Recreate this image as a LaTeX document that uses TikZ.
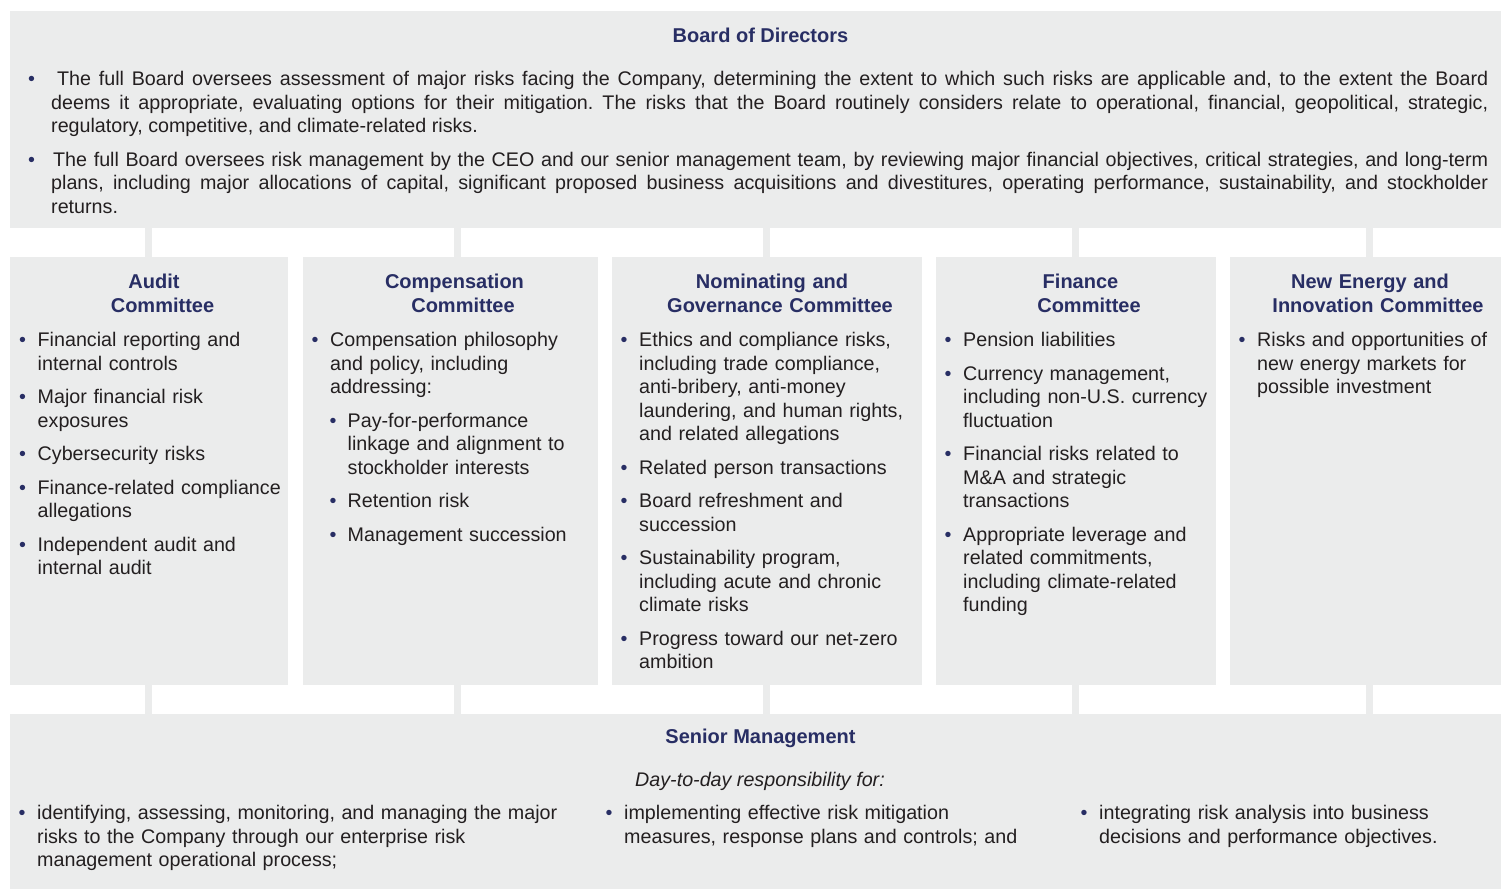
\documentclass[tikz,border=0pt]{standalone}
\usepackage{fontspec}
\setmainfont{Liberation Sans}
\frenchspacing
\definecolor{boxbg}{RGB}{235,236,236}
\definecolor{navy}{RGB}{40,46,100}
\definecolor{ink}{RGB}{35,31,32}
\newlength{\hw}
\newlength{\isep}
\setlength{\isep}{10pt}
\newcommand{\bodyfont}{\fontsize{19.7pt}{23.5pt}\selectfont}
\newcommand{\headfont}{\fontsize{20pt}{23.5pt}\selectfont}
\newcommand{\bulc}{{\color{navy}\textbullet}}
\newcommand{\firstitem}[2][18.5pt]{\setlength{\hw}{#1}\par\hangindent=\hw\hangafter=1\noindent\rule{0pt}{16pt}\makebox[\hw][l]{\bulc}#2\par}
\newcommand{\nextitem}[2][18.5pt]{\setlength{\hw}{#1}\par\vskip\isep\hangindent=\hw\hangafter=1\noindent\makebox[\hw][l]{\bulc}#2\par}
\newcommand{\subitm}[1]{\par\vskip\isep\hangindent=36pt\hangafter=1\noindent\hspace*{18pt}\makebox[18pt][l]{\bulc}#1\par}
\begin{document}
\begin{tikzpicture}[x=1pt,y=-1pt,
  box/.style={anchor=north west, fill=boxbg, draw=none, inner sep=0pt},
  bar/.style={draw=boxbg, line width=7pt, line cap=butt},
  title/.style={inner sep=0pt, font=\headfont\bfseries, text=navy},
  ctitle/.style={anchor=north, inner sep=0pt, text width=300pt, align=center, font=\headfont\bfseries, text=navy},
  body/.style={anchor=north west, inner sep=0pt, text width=#1, align=left, font=\bodyfont, text=ink}]
\useasboundingbox (0,0) rectangle (1501,889);
\fill[white] (0,0) rectangle (1501,889);

% boxes
\node[box, minimum width=1491pt, minimum height=217pt] (board) at (10,11) {};
\node[box, minimum width=278pt, minimum height=428pt] (audit) at (10,257) {};
\node[box, minimum width=295pt, minimum height=428pt] (comp) at (303,257) {};
\node[box, minimum width=310pt, minimum height=428pt] (nom) at (612,257) {};
\node[box, minimum width=280pt, minimum height=428pt] (fin) at (936,257) {};
\node[box, minimum width=271pt, minimum height=428pt] (ne) at (1230,257) {};
\node[box, minimum width=1491pt, minimum height=175pt] (senior) at (10,714) {};

% connector bars
\coordinate (b1) at (148.5,0);
\coordinate (b2) at (457.5,0);
\coordinate (b3) at (766.5,0);
\coordinate (b4) at (1075.5,0);
\coordinate (b5) at (1369.5,0);
\draw[bar] (board.south -| b1) -- (audit.north -| b1);
\draw[bar] (board.south -| b2) -- (comp.north -| b2);
\draw[bar] (board.south -| b3) -- (nom.north -| b3);
\draw[bar] (board.south -| b4) -- (fin.north -| b4);
\draw[bar] (board.south -| b5) -- (ne.north -| b5);
\draw[bar] (audit.south -| b1) -- (senior.north -| b1);
\draw[bar] (comp.south -| b2) -- (senior.north -| b2);
\draw[bar] (nom.south -| b3) -- (senior.north -| b3);
\draw[bar] (fin.south -| b4) -- (senior.north -| b4);
\draw[bar] (ne.south -| b5) -- (senior.north -| b5);

% board
\node[title, anchor=base] (boardtitle) at (760.5,42) {Board of Directors};
\node[body=1460pt, align=justify] (boardtext) at (28,62) {%
\firstitem[23pt]{\hspace{6pt}The full Board oversees assessment of major risks facing the Company, determining the extent to which such risks are applicable and, to the extent the Board\linebreak deems it appropriate, evaluating options for their mitigation. The risks that the Board routinely considers relate to operational, financial, geopolitical, strategic,\linebreak regulatory, competitive, and climate-related risks.}
\nextitem[23pt]{\hspace{2pt}The full Board oversees risk management by the CEO and our senior management team, by reviewing major financial objectives, critical strategies, and long-term\linebreak plans, including major allocations of capital, significant proposed business acquisitions and divestitures, operating performance, sustainability, and stockholder\linebreak returns.}};

% committee titles
\node[ctitle] (audittitle) at (154,272.5) {\rule{0pt}{16pt}Audit\\\hspace*{17pt}Committee};
\node[ctitle] (comptitle) at (454.5,272.5) {\rule{0pt}{16pt}Compensation\\\hspace*{17pt}Committee};
\node[ctitle] (nomtitle) at (772,272.5) {\rule{0pt}{16pt}Nominating and\\\hspace*{16pt}Governance Committee};
\node[ctitle] (fintitle) at (1080.5,272.5) {\rule{0pt}{16pt}Finance\\\hspace*{17pt}Committee};
\node[ctitle] (netitle) at (1370,272.5) {\rule{0pt}{16pt}New Energy and\\\hspace*{16pt}Innovation Committee};

% committee bodies
\node[body=400pt] (auditbody) at (19,323) {%
\firstitem{Financial reporting and\newline internal controls}
\nextitem{Major financial risk\newline exposures}
\nextitem{Cybersecurity risks}
\nextitem{Finance-related compliance\newline allegations}
\nextitem{Independent audit and\newline internal audit}};

\node[body=400pt] (compbody) at (311.5,323) {%
\firstitem{Compensation philosophy\newline and policy, including\newline addressing:}
\subitm{Pay-for-performance\newline linkage and alignment to\newline stockholder interests}
\subitm{Retention risk}
\subitm{Management succession}};

\node[body=400pt] (nombody) at (620.5,323) {%
\firstitem{Ethics and compliance risks,\newline including trade compliance,\newline anti-bribery, anti-money\newline laundering, and human rights,\newline and related allegations}
\nextitem{Related person transactions}
\nextitem{Board refreshment and\newline succession}
\nextitem{Sustainability program,\newline including acute and chronic\newline climate risks}
\nextitem{Progress toward our net-zero\newline ambition}};

\node[body=400pt] (finbody) at (944.5,323) {%
\firstitem{Pension liabilities}
\nextitem{Currency management,\newline including non-U.S. currency\newline fluctuation}
\nextitem{Financial risks related to\newline M\&A and strategic\newline transactions}
\nextitem{Appropriate leverage and\newline related commitments,\newline including climate-related\newline funding}};

\node[body=400pt] (nebody) at (1238.5,323) {%
\firstitem{Risks and opportunities of\newline new energy markets for\newline possible investment}};

% senior management
\node[title, anchor=base] (smtitle) at (760.5,743.5) {Senior Management};
\node[anchor=base, inner sep=0pt, font=\bodyfont\itshape, text=ink] (smsub) at (760,786.5) {Day-to-day responsibility for:};
\node[body=600pt] (sm1) at (18.5,796) {%
\firstitem{identifying, assessing, monitoring, and managing the major\newline risks to the Company through our enterprise risk\newline management operational process;}};
\node[body=500pt] (sm2) at (605.5,796) {%
\firstitem{implementing effective risk mitigation\newline measures, response plans and controls; and}};
\node[body=500pt] (sm3) at (1080.5,796) {%
\firstitem{integrating risk analysis into business\newline decisions and performance objectives.}};
\end{tikzpicture}
\end{document}
